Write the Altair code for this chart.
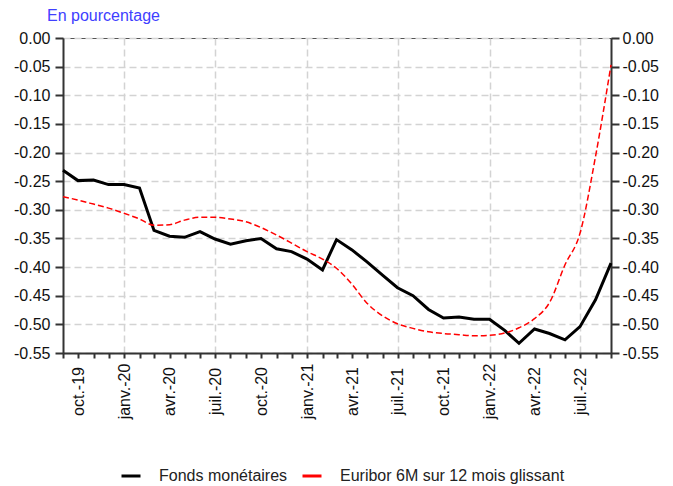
import altair as alt
import pandas as pd

months = [
    "2019-09-01", "2019-10-01", "2019-11-01", "2019-12-01",
    "2020-01-01", "2020-02-01", "2020-03-01", "2020-04-01", "2020-05-01", "2020-06-01",
    "2020-07-01", "2020-08-01", "2020-09-01", "2020-10-01", "2020-11-01", "2020-12-01",
    "2021-01-01", "2021-02-01", "2021-03-01", "2021-04-01", "2021-05-01", "2021-06-01",
    "2021-07-01", "2021-08-01", "2021-09-01", "2021-10-01", "2021-11-01", "2021-12-01",
    "2022-01-01", "2022-02-01", "2022-03-01", "2022-04-01", "2022-05-01", "2022-06-01",
    "2022-07-01", "2022-08-01", "2022-09-01",
]

fonds = [
    -0.231, -0.249, -0.248, -0.256,
    -0.256, -0.262, -0.336, -0.346, -0.348, -0.338,
    -0.351, -0.360, -0.354, -0.350, -0.368, -0.373,
    -0.386, -0.405, -0.352, -0.370, -0.391, -0.414,
    -0.436, -0.450, -0.474, -0.489, -0.487, -0.491,
    -0.491, -0.511, -0.533, -0.508, -0.516, -0.527,
    -0.504, -0.457, -0.393,
]

euribor = [
    -0.277, -0.283, -0.290, -0.297,
    -0.306, -0.316, -0.327, -0.326, -0.318, -0.313,
    -0.313, -0.316, -0.321, -0.331, -0.344, -0.358,
    -0.373, -0.386, -0.402, -0.430, -0.463, -0.485,
    -0.499, -0.507, -0.513, -0.516, -0.518, -0.520,
    -0.519, -0.515, -0.506, -0.490, -0.462, -0.396,
    -0.341, -0.207, -0.047,
]

series_names = ["Fonds monétaires", "Euribor 6M sur 12 mois glissant"]
y_ticks = [0.0, -0.05, -0.10, -0.15, -0.20, -0.25, -0.30, -0.35, -0.40, -0.45, -0.50, -0.55]

df_f = pd.DataFrame({"date": months, "value": fonds, "serie": series_names[0]})
df_e = pd.DataFrame({"date": months, "value": euribor, "serie": series_names[1]})

FONT = "Liberation Sans"

tick_dates = [
    alt.DateTime(year=int(m[:4]), month=int(m[5:7]), date=1, utc=True) for m in months
]

x_axis = alt.Axis(
    values=tick_dates,
    labelExpr="utcmonth(datum.value) % 3 == 0 ? ['janv.','avr.','juil.','oct.'][utcmonth(datum.value)/3] + '-' + utcFormat(datum.value, '%y') : ''",
    labelAngle=270,
    labelAlign="center",
    labelBaseline="middle",
    labelPadding=33,
    labelOverlap=False,
    labelFlush=False,
    labelFont=FONT,
    labelFontSize=16,
    labelColor="#111111",
    tickSize=5,
    tickWidth=2,
    tickColor="#333333",
    domainColor="#333333",
    domainWidth=2,
    grid=True,
    gridColor="#d3d3d3",
    gridWidth=1.5,
    gridDash=[7, 4],
    gridOpacity={"condition": {"test": "utcmonth(datum.value) % 6 == 0", "value": 1}, "value": 0},
    title=None,
)

x_enc = alt.X(
    "date:T",
    scale=alt.Scale(type="utc", domain=[alt.DateTime(year=2019, month=9, date=1, utc=True),
                                        alt.DateTime(year=2022, month=9, date=1, utc=True)], nice=False),
    axis=x_axis,
)

y_scale = alt.Scale(domain=[-0.55, 0.0], nice=False, zero=False)

def y_axis(orient, grid, pad):
    return alt.Axis(
        orient=orient,
        values=y_ticks,
        labelExpr="replace(format(datum.value, '.2f'), '\u2212', '-')",
        labelFont=FONT,
        labelFontSize=16,
        labelColor="#111111",
        labelPadding=pad,
        tickSize=8,
        tickWidth=2,
        tickColor="#333333",
        domainColor="#333333",
        domainWidth=2,
        grid=grid,
        gridColor="#d3d3d3",
        gridWidth=1.5,
        gridDash=[7, 4],
        title=None,
    )

color_scale = alt.Scale(domain=series_names, range=["#000000", "#ff0000"])

color_with_legend = alt.Color(
    "serie:N",
    scale=color_scale,
    legend=alt.Legend(
        orient="none",
        legendX=57,
        legendY=427,
        direction="horizontal",
        title=None,
        symbolType="stroke",
        symbolSize=361,
        symbolStrokeWidth=3,
        symbolDash=[1, 0],
        labelFont=FONT,
        labelFontSize=16,
        labelColor="#222222",
        labelOffset=17,
        labelLimit=500,
        columnPadding=8,
    ),
)

color_no_legend = alt.Color("serie:N", scale=color_scale, legend=None)

black = alt.Chart(df_f).mark_line(strokeWidth=3).encode(
    x=x_enc,
    y=alt.Y("value:Q", scale=y_scale, axis=y_axis("left", True, 5)),
    color=color_with_legend,
)

red = alt.Chart(df_e).mark_line(strokeWidth=1.5, strokeDash=[6, 3], interpolate="monotone").encode(
    x=x_enc,
    y=alt.Y("value:Q", scale=y_scale, axis=y_axis("right", False, 3)),
    color=color_no_legend,
)

chart = alt.layer(black, red).resolve_axis(y="independent").properties(
    width=548,
    height=315,
    autosize=alt.AutoSizeParams(type="none"),
    padding={"left": 55, "top": 30, "right": 54, "bottom": 133},
    title=alt.TitleParams(
        "En pourcentage",
        anchor="start",
        frame="group",
        dx=-16,
        dy=17,
        offset=10,
        baseline="alphabetic",
        font=FONT,
        fontSize=16,
        fontWeight="normal",
        color="#4040ff",
    ),
).configure_view(stroke="#555555", strokeWidth=1)

chart.save("out.html", embed_options={"renderer": "svg", "actions": False})
